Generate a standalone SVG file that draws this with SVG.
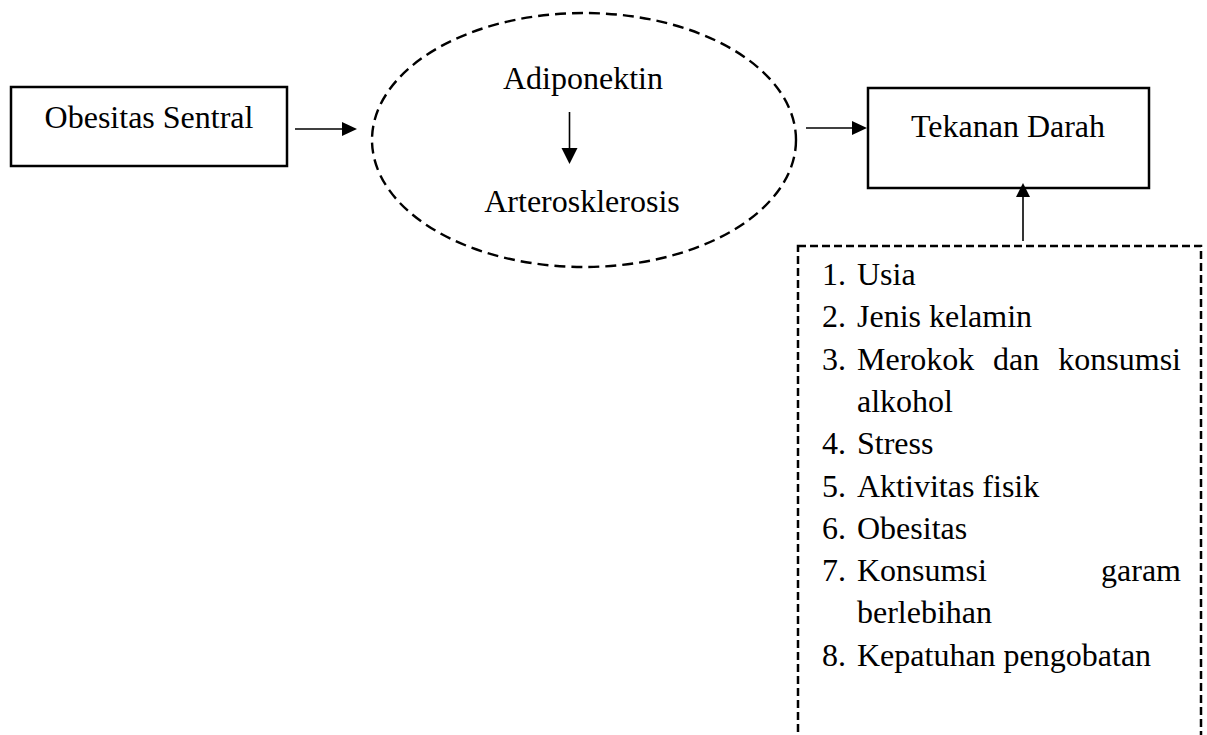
<svg xmlns="http://www.w3.org/2000/svg" width="1207" height="735" viewBox="0 0 1207 735">
<style>
text{font-family:"Liberation Serif","Times New Roman",serif;font-size:32px;fill:#000}
.box{fill:#fff;stroke:#000;stroke-width:2.5}
.dash{fill:none;stroke:#000;stroke-width:2.4;stroke-dasharray:11 6}
.dbox{fill:none;stroke:#000;stroke-width:2.5;stroke-dasharray:8 4}
.ln{stroke:#000;stroke-width:1.6;fill:none}
.ah{fill:#000}
</style>
<rect width="1207" height="735" fill="#fff"/>
<g id="obesitas-sentral">
<rect class="box" x="11" y="87" width="276" height="79"/>
<text x="149" y="128" text-anchor="middle">Obesitas Sentral</text>
</g>
<g id="mediator">
<ellipse class="dash" cx="584" cy="140" rx="212" ry="127"/>
<text x="583" y="89" text-anchor="middle">Adiponektin</text>
<text x="582" y="212" text-anchor="middle">Arterosklerosis</text>
</g>
<g id="tekanan-darah">
<rect class="box" x="868" y="88" width="281" height="100"/>
<text x="1008" y="137" text-anchor="middle">Tekanan Darah</text>
</g>
<g id="faktor">
<rect class="dbox" x="798" y="246" width="403" height="500"/>
<text x="822" y="285">1.</text><text x="857" y="285">Usia</text>
<text x="822" y="327">2.</text><text x="857" y="327">Jenis kelamin</text>
<text x="822" y="370">3.</text><text x="857" y="370">Merokok</text><text x="993" y="370">dan</text><text x="1181" y="370" text-anchor="end">konsumsi</text>
<text x="857" y="412">alkohol</text>
<text x="822" y="454">4.</text><text x="857" y="454">Stress</text>
<text x="822" y="497">5.</text><text x="857" y="497">Aktivitas fisik</text>
<text x="822" y="539">6.</text><text x="857" y="539">Obesitas</text>
<text x="822" y="581">7.</text><text x="857" y="581">Konsumsi</text><text x="1181" y="581" text-anchor="end">garam</text>
<text x="857" y="623">berlebihan</text>
<text x="822" y="666">8.</text><text x="857" y="666">Kepatuhan pengobatan</text>
</g>
<g id="connectors">
<line class="ln" x1="295" y1="129" x2="343" y2="129"/>
<polygon class="ah" points="357,129 342,122 342,136"/>
<line class="ln" x1="806" y1="128" x2="853" y2="128"/>
<polygon class="ah" points="867,128 852,121 852,135"/>
<line class="ln" x1="569.5" y1="112" x2="569.5" y2="149"/>
<polygon class="ah" points="569.5,164 561.5,148 577.5,148"/>
<line class="ln" x1="1023" y1="241" x2="1023" y2="196"/>
<polygon class="ah" points="1023,183 1016,197 1030,197"/>
</g>
</svg>
